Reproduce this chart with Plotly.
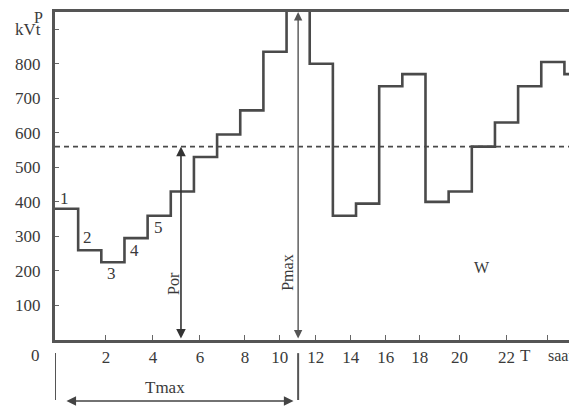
import plotly.graph_objects as go

# ---- data ----
hours = list(range(24))
load_kw = [380, 260, 225, 295, 360, 430, 530, 595, 665, 835, 1000, 800,
           360, 395, 735, 770, 400, 430, 560, 630, 735, 805, 770, 770]
step_labels = ["1", "2", "3", "4", "5"]
step_label_x = [0.43, 1.42, 2.42, 3.45, 4.49]
step_label_y = [411, 296, 194, 258, 327]
p_avg = 560          # dashed average-load level
t_por = 5.44         # hour at which Por is drawn
t_max = 10.5         # hour of the maximum (Pmax)
y_tick_vals = [100, 200, 300, 400, 500, 600, 700, 800, 900]
y_tick_text = ["100", "200", "300", "400", "500", "600", "700", "800", "kVt"]
x_tick_text = ["2", "4", "6", "8", "10", "12", "14", "16", "18", "20", "22", ""]
# where the printed labels sit along the (hourly-stepped) axis in the figure
x_tick_pos = [2.20, 4.23, 6.26, 8.20, 9.71, 11.26, 12.77, 14.28, 15.75, 17.47, 19.50, 21.27]

FONT = "Liberation Serif"
INK = "#3a3a3a"
LINE = "#4a4a4a"

fig = go.Figure()
fig.add_trace(go.Scatter(
    x=hours, y=load_kw, mode="lines", line_shape="hv",
    line=dict(color=LINE, width=2.6), showlegend=False, hoverinfo="skip"))

shapes = [
    dict(type="line", xref="x", yref="y", x0=0, x1=23, y0=p_avg, y1=p_avg,
         line=dict(color="#4a4a4a", width=1.6, dash="5px,4px")),
    dict(type="line", xref="x", yref="paper", x0=0, x1=0, y0=-0.04, y1=-0.183,
         line=dict(color="#555", width=2)),
    dict(type="line", xref="x", yref="paper", x0=t_max, x1=t_max, y0=-0.04, y1=-0.183,
         line=dict(color="#555", width=2)),
]

ann = []
for t, xx, yy in zip(step_labels, step_label_x, step_label_y):
    ann.append(dict(x=xx, y=yy, xref="x", yref="y", text=t, showarrow=False,
                    font=dict(family=FONT, size=17, color=INK)))
# Por double arrow
ann.append(dict(x=t_por, y=p_avg, ax=t_por, ay=0, xref="x", yref="y",
                axref="x", ayref="y", text="", showarrow=True,
                arrowhead=2, startarrowhead=2, arrowside="end+start",
                arrowsize=1.2, startarrowsize=1.2, arrowwidth=1.6, arrowcolor="#333"))
# Pmax double arrow
ann.append(dict(x=t_max, y=950, ax=t_max, ay=0, xref="x", yref="y",
                axref="x", ayref="y", text="", showarrow=True,
                arrowhead=2, startarrowhead=2, arrowside="end+start",
                arrowsize=1.2, startarrowsize=1.2, arrowwidth=1.4, arrowcolor="#555"))
# Tmax double arrow
ann.append(dict(x=10.3, y=-0.186, ax=0.43, ay=0, xref="x", yref="paper",
                axref="x", ayref="pixel", text="", showarrow=True,
                arrowhead=2, startarrowhead=2, arrowside="end+start",
                arrowsize=1.2, startarrowsize=1.2, arrowwidth=1.6, arrowcolor="#444"))


def ptext(x, y, text, size=17, xanchor="center"):
    return dict(x=x, y=y, xref="paper", yref="paper", text=text, showarrow=False,
                xanchor=xanchor, yanchor="middle",
                font=dict(family=FONT, size=size, color=INK))


ann += [
    dict(x=5.09, y=165, xref="x", yref="y", text="Por", textangle=-90, showarrow=False,
         font=dict(family=FONT, size=16, color=INK)),
    dict(x=10.01, y=194, xref="x", yref="y", text="Pmax", textangle=-90, showarrow=False,
         font=dict(family=FONT, size=16, color=INK)),
    dict(x=18.42, y=209, xref="x", yref="y", text="W", showarrow=False,
         font=dict(family=FONT, size=16, color=INK)),
    dict(x=4.75, y=-0.146, xref="x", yref="paper", text="Tmax", showarrow=False,
         xanchor="center", yanchor="middle", font=dict(family=FONT, size=17, color=INK)),
    ptext(0.904, -0.046, "T"),
    ptext(0.942, -0.046, "saat", size=16, xanchor="left"),
    ptext(-0.038, -0.046, "0"),
    ptext(-0.032, 0.982, "P", size=16),
]

# the page body adds an 8px offset, so the figure is sized to the visible window
fig.update_layout(
    width=569, height=399,
    margin=dict(l=47, r=1, t=4, b=67, autoexpand=False),
    paper_bgcolor="white", plot_bgcolor="white",
    font=dict(family=FONT, size=17, color=INK),
    shapes=shapes, annotations=ann,
    xaxis=dict(range=[0, 22.5], tickvals=x_tick_pos, ticktext=x_tick_text,
               ticks="inside", ticklen=5, tickwidth=1.2, tickcolor="#666",
               showgrid=False, zeroline=False, showline=True, mirror=True,
               linecolor="#555", linewidth=3, fixedrange=True, automargin=False),
    yaxis=dict(range=[0, 950], tickvals=y_tick_vals, ticktext=y_tick_text,
               ticks="inside", ticklen=4, tickwidth=1.2, tickcolor="#666",
               ticklabelstandoff=8,
               showgrid=False, zeroline=False, showline=True, mirror=True,
               linecolor="#555", linewidth=3, fixedrange=True, automargin=False),
)

fig.write_html("out.html")
